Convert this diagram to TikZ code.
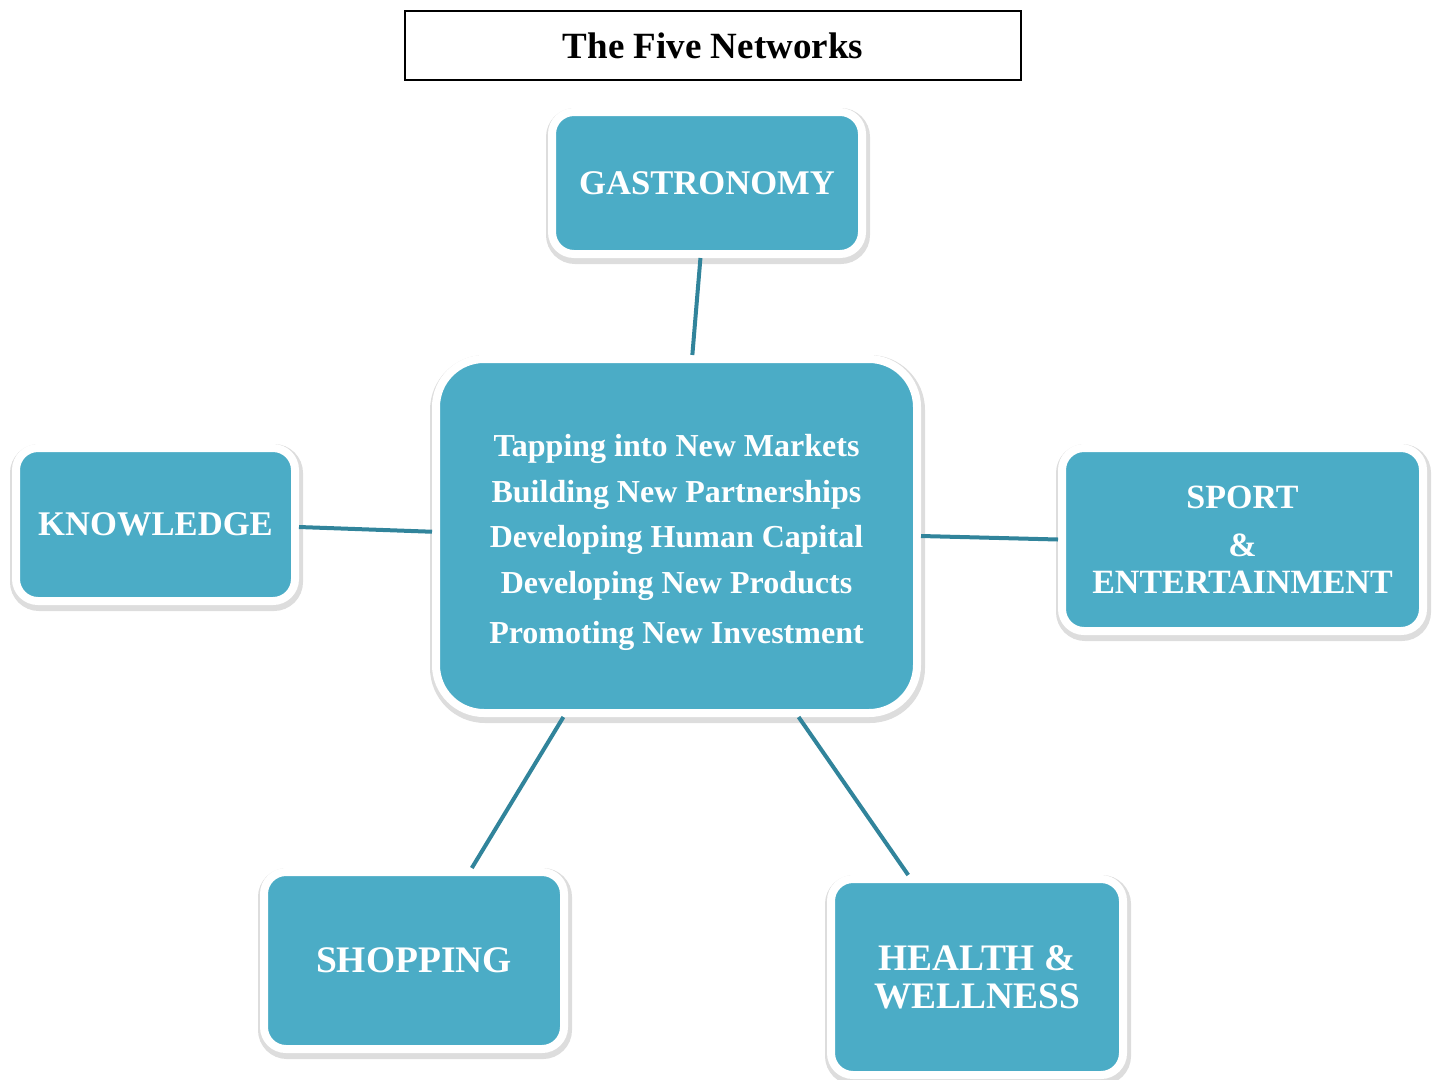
\documentclass[tikz,border=0pt]{standalone}
\usepackage{fontspec}
\setmainfont{Liberation Serif}
\usetikzlibrary{shadows}
\usepackage{xcolor}
\definecolor{boxblue}{HTML}{4BACC6}
\definecolor{linkblue}{HTML}{31849B}
\begin{document}
\begin{tikzpicture}[x=1pt, y=-1pt]
\tikzset{netbox/.style={draw=white, line width=8pt, fill=boxblue, text=white, rounded corners=22pt, align=center, inner sep=0pt, drop shadow={shadow xshift=1pt, shadow yshift=-3pt, opacity=.22, fill=black!60, draw=black!60, line width=14pt}} }
\tikzset{link/.style={draw=linkblue, line width=4pt} }
\useasboundingbox (0,0) rectangle (1434,1079);
\node[draw, line width=2pt, minimum width=616pt, minimum height=69pt, inner sep=0pt, font=\fontsize{37}{40}\selectfont\bfseries] (title) at (713,45.5) {The Five Networks};
\node[netbox, minimum width=310pt, minimum height=142pt, font=\fontsize{34.6}{40}\selectfont\bfseries] (gas) at (707,183) {GASTRONOMY};
\node[netbox, rounded corners=48pt, minimum width=481pt, minimum height=354pt, font=\fontsize{32}{45.5}\selectfont\bfseries] (hub) at (676.5,536) {\raisebox{-5pt}[\height][\depth]{\begin{tabular}{@{}c@{}}Tapping into New Markets\\Building New Partnerships\\Developing Human Capital\\Developing New Products\\[5pt]Promoting New Investment\end{tabular}}};
\node[netbox, minimum width=279pt, minimum height=153pt, font=\fontsize{34.6}{40}\selectfont\bfseries] (know) at (155.5,524.5) {KNOWLEDGE};
\node[netbox, minimum width=361pt, minimum height=183pt, font=\fontsize{34}{37}\selectfont\bfseries] (sport) at (1242.5,539.5) {SPORT\\[11pt]\&\\ENTERTAINMENT};
\node[netbox, minimum width=300pt, minimum height=177pt, font=\fontsize{37.5}{40}\selectfont\bfseries] (shop) at (414,960.5) {SHOPPING};
\node[netbox, minimum width=292pt, minimum height=196pt, font=\fontsize{37.4}{38}\selectfont\bfseries] (health) at (977,977) {HEALTH \&\\WELLNESS};
\draw[link] (gas.-95) -- (hub.85);
\draw[link] (know.-1) -- (hub.179);
\draw[link] (hub.0) -- (sport.180);
\draw[link] (hub.-122) -- (shop.58);
\draw[link] (hub.-56) -- (health.124);
\end{tikzpicture}
\end{document}
